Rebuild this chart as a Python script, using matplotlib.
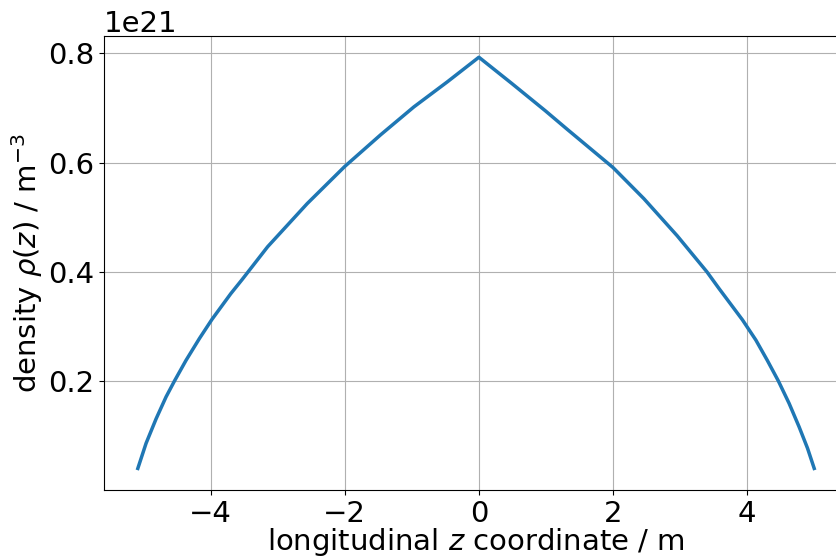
import matplotlib
matplotlib.use("Agg")
import matplotlib.pyplot as plt
import numpy as np

# longitudinal position (m) and density (units of 1e21 m^-3)
z_pos = [-5.086, -4.963, -4.813, -4.665, -4.54, -4.367, -4.167, -3.98, -3.70, -3.53,
         -3.15, -2.56, -2.00, -1.465, -0.97, -0.47, 0.0,
         0.49, 0.99, 1.317, 2.00, 2.46, 2.957, 3.40, 3.577, 3.93, 4.13, 4.30,
         4.466, 4.626, 4.775, 4.90, 5.00]
rho_e21 = [0.040, 0.086, 0.131, 0.171, 0.200, 0.238, 0.278, 0.313, 0.360, 0.386,
           0.446, 0.525, 0.593, 0.651, 0.702, 0.748, 0.793,
           0.745, 0.695, 0.661, 0.591, 0.534, 0.466, 0.400, 0.370, 0.312, 0.275, 0.238,
           0.200, 0.159, 0.116, 0.077, 0.040]

plt.rcParams["font.size"] = 21

fig = plt.figure(figsize=(8.36, 5.57), dpi=100)
ax = fig.add_axes([0.1244, 0.1203, 0.890, 0.8142])

ax.plot(z_pos, np.array(rho_e21) * 1e21, color="C0", linewidth=2.5)
ax.grid(True)
ax.set_xlabel("longitudinal $z$ coordinate / m", labelpad=-1.5)
ax.set_ylabel(r"density $\rho(z)$ / m$^{-3}$", labelpad=2)
ax.set_xticks([-4, -2, 0, 2, 4])
ax.set_ylim(0.0005e21, 0.831e21)
ax.ticklabel_format(axis="y", style="sci", scilimits=(21, 21))

fig.savefig("out.png", dpi=100)
